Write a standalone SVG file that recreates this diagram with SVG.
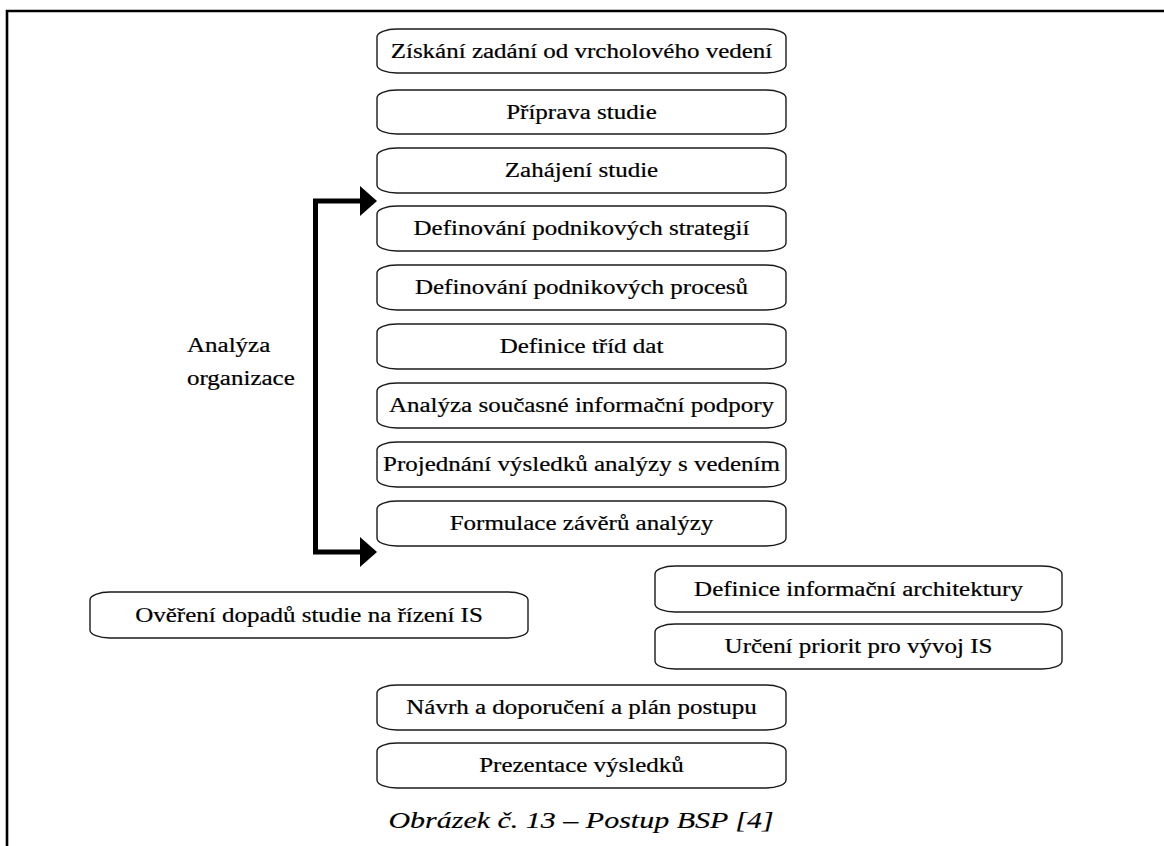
<svg xmlns="http://www.w3.org/2000/svg" width="1164" height="846" viewBox="0 0 1164 846">
  <style>
    .frame { stroke: #000; stroke-width: 2.6; fill: none; }
    .node rect { fill: #fff; stroke: #1a1a1a; stroke-width: 1.4; }
    text { font-family: 'Liberation Serif', 'Times New Roman', serif; fill: #000; stroke: #000; stroke-width: 0.2; }
    .node text { font-size: 20px; text-anchor: middle; }
    .label { font-size: 20px; text-anchor: start; }
    .caption { font-size: 24px; font-style: italic; text-anchor: middle; stroke-width: 0.15; }
    .bracket { stroke: #000; stroke-width: 5; fill: none; stroke-linejoin: miter; }
  </style>

  <!-- page frame -->
  <path class="frame" d="M7,846 V11 H1164"/>

  <!-- main column of steps -->
  <g id="n1" class="node"><rect x="377" y="29" width="409" height="44" rx="20" ry="8"/><text transform="translate(581.5,58) scale(1.25,1)">Získání zadání od vrcholového vedení</text></g>
  <g id="n2" class="node"><rect x="377" y="90" width="409" height="44" rx="20" ry="8"/><text transform="translate(581.5,119) scale(1.25,1)">Příprava studie</text></g>
  <g id="n3" class="node"><rect x="377" y="148" width="409" height="45" rx="20" ry="8"/><text transform="translate(581.5,177) scale(1.25,1)">Zahájení studie</text></g>
  <g id="n4" class="node"><rect x="377" y="206" width="409" height="45" rx="20" ry="8"/><text transform="translate(581.5,235) scale(1.25,1)">Definování podnikových strategií</text></g>
  <g id="n5" class="node"><rect x="377" y="265" width="409" height="45" rx="20" ry="8"/><text transform="translate(581.5,294) scale(1.25,1)">Definování podnikových procesů</text></g>
  <g id="n6" class="node"><rect x="377" y="324" width="409" height="45" rx="20" ry="8"/><text transform="translate(581.5,353) scale(1.25,1)">Definice tříd dat</text></g>
  <g id="n7" class="node"><rect x="377" y="383" width="409" height="45" rx="20" ry="8"/><text transform="translate(581.5,412) scale(1.25,1)">Analýza současné informační podpory</text></g>
  <g id="n8" class="node"><rect x="377" y="442" width="409" height="45" rx="20" ry="8"/><text transform="translate(581.5,471) scale(1.25,1)">Projednání výsledků analýzy s vedením</text></g>
  <g id="n9" class="node"><rect x="377" y="501" width="409" height="45" rx="20" ry="8"/><text transform="translate(581.5,530) scale(1.25,1)">Formulace závěrů analýzy</text></g>

  <!-- side steps -->
  <g id="n10" class="node"><rect x="90" y="592" width="438" height="46" rx="20" ry="8"/><text transform="translate(309,622) scale(1.25,1)">Ověření dopadů studie na řízení IS</text></g>
  <g id="n11" class="node"><rect x="655" y="566" width="407" height="46" rx="20" ry="8"/><text transform="translate(858.5,596) scale(1.25,1)">Definice informační architektury</text></g>
  <g id="n12" class="node"><rect x="655" y="624" width="407" height="45" rx="20" ry="8"/><text transform="translate(858.5,653) scale(1.25,1)">Určení priorit pro vývoj IS</text></g>

  <!-- closing steps -->
  <g id="n13" class="node"><rect x="377" y="685" width="409" height="45" rx="20" ry="8"/><text transform="translate(581.5,714) scale(1.25,1)">Návrh a doporučení a plán postupu</text></g>
  <g id="n14" class="node"><rect x="377" y="743" width="409" height="45" rx="20" ry="8"/><text transform="translate(581.5,772) scale(1.25,1)">Prezentace výsledků</text></g>

  <!-- bracket spanning the analysis steps, with an arrowhead at each end -->
  <g id="connectors">
    <path class="bracket" d="M361,201 H315.5 V552 H361"/>
    <path d="M360,186 L377,201 L360,216 Z" fill="#000"/>
    <path d="M360,537 L377,552 L360,567 Z" fill="#000"/>
  </g>

  <g id="bracket-label">
    <text class="label" transform="translate(187,352) scale(1.25,1)">Analýza</text>
    <text class="label" transform="translate(187,385) scale(1.25,1)">organizace</text>
  </g>

  <text class="caption" transform="translate(581,828) scale(1.25,1)">Obrázek č. 13 – Postup BSP [4]</text>
</svg>
